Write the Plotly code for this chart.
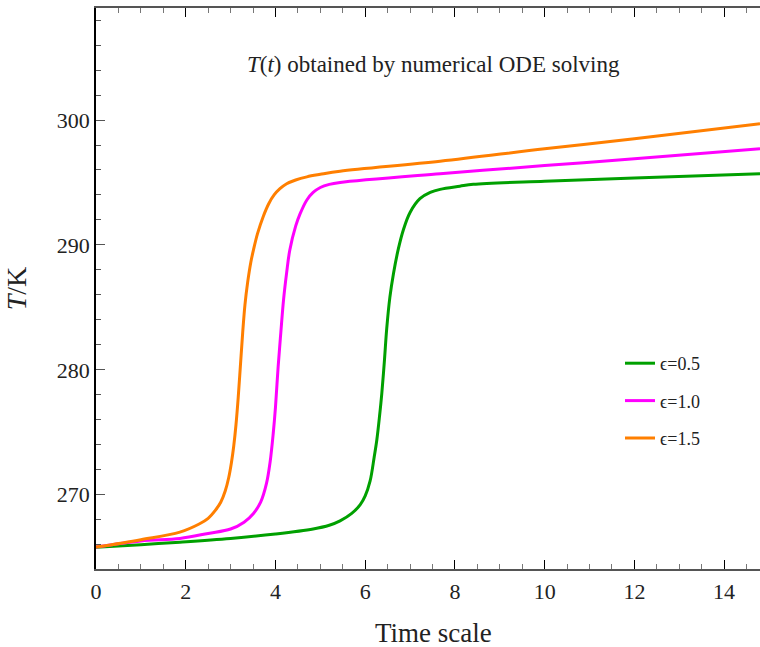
import plotly.graph_objects as go

# ---- data ----
labels = ["ϵ=0.5", "ϵ=1.0", "ϵ=1.5"]
colors = ["#00a000", "#ff00ff", "#ff7f00"]

t_eps05 = [0, 1, 1.87, 3, 4, 4.84, 5.2, 5.44, 5.7, 5.89, 6.0, 6.11, 6.2, 6.26, 6.32, 6.37, 6.43,
           6.48, 6.55, 6.63, 6.74, 6.85, 7.0, 7.22, 7.45, 7.67, 8.11, 8.41, 10, 12, 14.8]
T_eps05 = [265.8, 266.0, 266.2, 266.5, 266.85, 267.25, 267.55, 267.9, 268.5, 269.2, 269.9, 271.1,
           273.0, 274.4, 276.3, 278.1, 280.8, 283.3, 285.8, 287.7, 289.7, 291.2, 292.6, 293.7,
           294.2, 294.45, 294.7, 294.85, 295.1, 295.35, 295.7]

t_eps10 = [0, 1, 1.87, 2.5, 3, 3.3, 3.51, 3.67, 3.80, 3.88, 3.95, 4.0, 4.06, 4.12, 4.18, 4.25,
           4.32, 4.45, 4.55, 4.7, 4.84, 5.0, 5.2, 5.44, 7.67, 10, 12, 14.8]
T_eps10 = [265.8, 266.3, 266.5, 266.9, 267.25, 267.8, 268.5, 269.4, 270.9, 272.6, 274.9, 277.0,
           280.25, 283.0, 285.6, 287.8, 289.6, 291.5, 292.5, 293.6, 294.2, 294.6, 294.85, 295.0,
           295.7, 296.35, 296.9, 297.7]

t_eps15 = [0, 1, 1.87, 2.3, 2.5, 2.65, 2.78, 2.88, 2.96, 3.02, 3.07, 3.12, 3.17, 3.22, 3.27,
           3.32, 3.38, 3.45, 3.51, 3.6, 3.73, 3.85, 3.97, 4.1, 4.25, 4.45, 4.7, 5.0, 5.44, 7.67,
           10, 12, 14.8]
T_eps15 = [265.8, 266.4, 267.0, 267.65, 268.1, 268.7, 269.4, 270.3, 271.4, 272.6, 273.9, 275.6,
           277.8, 280.4, 283.0, 285.2, 287.0, 288.6, 289.6, 290.9, 292.3, 293.3, 294.0, 294.5,
           294.9, 295.2, 295.45, 295.65, 295.9, 296.7, 297.7, 298.5, 299.7]

series_t = [t_eps05, t_eps10, t_eps15]
series_T = [T_eps05, T_eps10, T_eps15]

x_range = [0, 14.8]
y_range = [264.05, 308.97]
x_ticks = [0, 2, 4, 6, 8, 10, 12, 14]
y_ticks = [270, 280, 290, 300]

TFONT = "Liberation Serif, Times New Roman, serif"

fig = go.Figure()
for i in range(3):
    fig.add_trace(go.Scatter(
        x=series_t[i], y=series_T[i], mode="lines", name=labels[i],
        line=dict(color=colors[i], width=3, shape="spline", smoothing=1.0),
        legendgroup=f"g{i}",
    ))

pw, ph = 760 - 96, 647 - 8 - 78
fig.update_layout(
    width=760, height=647,
    margin=dict(l=96, r=0, t=8, b=78),
    paper_bgcolor="white", plot_bgcolor="white",
    font=dict(family=TFONT, color="#222", size=22),
    showlegend=True,
    legend=dict(x=(620 - 96) / pw, y=(569 - 345) / ph, xanchor="left", yanchor="top",
                font=dict(family=TFONT, size=18, color="#222"),
                tracegroupgap=11, bgcolor="rgba(0,0,0,0)"),
    annotations=[
        dict(text="<i>T</i>(<i>t</i>) obtained by numerical ODE solving",
             x=(433 - 96) / pw, xref="paper", y=(569 - 65) / ph, yref="paper",
             xanchor="center", yanchor="middle", showarrow=False,
             font=dict(family=TFONT, size=23, color="#222")),
        dict(text="Time scale",
             x=(433 - 96) / pw, xref="paper", y=(569 - 633) / ph, yref="paper",
             xanchor="center", yanchor="middle", showarrow=False,
             font=dict(family=TFONT, size=27, color="#222")),
    ],
)

fig.update_xaxes(
    range=x_range, tickvals=x_ticks, showgrid=False, zeroline=False, automargin=False,
    showline=True, linecolor="#555", linewidth=1.5, mirror="allticks",
    ticks="inside", ticklen=9, tickcolor="#000", tickwidth=1,
    minor=dict(dtick=0.5, ticks="inside", ticklen=5, tickcolor="#777", tickwidth=1),
    tickfont=dict(family=TFONT, size=22, color="#222"),
    ticklabelstandoff=2,
)
fig.update_yaxes(
    range=y_range, tickvals=y_ticks, showgrid=False, zeroline=False, automargin=False,
    showline=True, linecolor="#000", linewidth=1.5,
    ticks="inside", ticklen=9, tickcolor="#555", tickwidth=1,
    minor=dict(dtick=2, ticks="inside", ticklen=5, tickcolor="#555", tickwidth=1),
    tickfont=dict(family=TFONT, size=22, color="#222"),
    title=dict(text="<i>T</i>/K", font=dict(family=TFONT, size=28, color="#222"), standoff=22),
)

fig.write_html("out.html")
